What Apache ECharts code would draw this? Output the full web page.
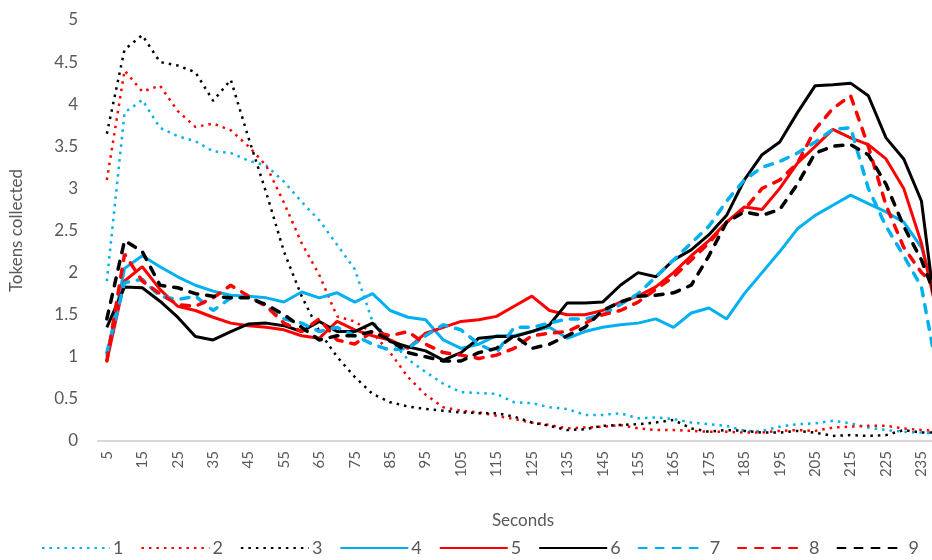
<!DOCTYPE html>
<html>
<head>
<meta charset="utf-8">
<title>Tokens collected</title>
<script src="https://cdn.jsdelivr.net/npm/echarts@6/dist/echarts.min.js"></script>
<style>
  html, body { margin: 0; padding: 0; background: #fff; overflow: hidden; }
  /* plot runs a little past the right edge, like the cropped original */
  #main { width: 948px; height: 560px; }
</style>
</head>
<body>
<div id="main"></div>
<script>
// seconds (x categories)
var seconds = [5, 10, 15, 20, 25, 30, 35, 40, 45, 50, 55, 60, 65, 70, 75, 80,
  85, 90, 95, 100, 105, 110, 115, 120, 125, 130, 135, 140, 145, 150, 155, 160,
  165, 170, 175, 180, 185, 190, 195, 200, 205, 210, 215, 220, 225, 230, 235, 240];

var yTicks = [0, 0.5, 1, 1.5, 2, 2.5, 3, 3.5, 4, 4.5, 5];
var seriesNames = ["1", "2", "3", "4", "5", "6", "7", "8", "9"];

// dotted 1-3
var s1 = [1.9, 3.9, 4.05, 3.72, 3.62, 3.56, 3.44, 3.42, 3.33, 3.27, 3.08, 2.84,
  2.62, 2.33, 2.04, 1.42, 1.2, 0.97, 0.82, 0.68, 0.58, 0.57, 0.56, 0.46,
  0.45, 0.4, 0.38, 0.31, 0.31, 0.33, 0.27, 0.28, 0.26, 0.22, 0.2, 0.18,
  0.12, 0.12, 0.17, 0.2, 0.21, 0.24, 0.21, 0.16, 0.13, 0.11, 0.1, 0.08];
var s2 = [3.1, 4.4, 4.15, 4.22, 3.92, 3.73, 3.77, 3.69, 3.5, 3.27, 2.83, 2.35,
  1.97, 1.48, 1.42, 1.28, 1.05, 0.76, 0.55, 0.4, 0.36, 0.34, 0.3, 0.26,
  0.22, 0.19, 0.15, 0.16, 0.17, 0.19, 0.15, 0.13, 0.13, 0.12, 0.11, 0.11,
  0.1, 0.1, 0.12, 0.13, 0.12, 0.16, 0.17, 0.18, 0.18, 0.15, 0.13, 0.12];
var s3 = [3.65, 4.65, 4.82, 4.5, 4.46, 4.38, 4.04, 4.29, 3.6, 2.95, 2.25, 1.72,
  1.3, 1.0, 0.76, 0.56, 0.46, 0.41, 0.38, 0.36, 0.34, 0.33, 0.33, 0.29,
  0.22, 0.18, 0.13, 0.14, 0.18, 0.19, 0.2, 0.22, 0.25, 0.15, 0.11, 0.13,
  0.12, 0.1, 0.1, 0.12, 0.1, 0.06, 0.07, 0.06, 0.07, 0.13, 0.1, 0.1];
// solid 4-6
var s4 = [1.0, 2.05, 2.2, 2.07, 1.95, 1.85, 1.78, 1.73, 1.72, 1.7, 1.65, 1.77,
  1.7, 1.76, 1.65, 1.75, 1.55, 1.47, 1.44, 1.2, 1.1, 1.15, 1.25, 1.25,
  1.3, 1.35, 1.22, 1.3, 1.35, 1.38, 1.4, 1.45, 1.35, 1.52, 1.58, 1.45,
  1.75, 2.0, 2.25, 2.52, 2.68, 2.8, 2.92, 2.82, 2.72, 2.6, 2.3, 1.6];
var s5 = [0.95, 1.9, 2.07, 1.8, 1.6, 1.55, 1.47, 1.4, 1.37, 1.35, 1.32, 1.25,
  1.22, 1.42, 1.32, 1.25, 1.2, 1.1, 1.28, 1.35, 1.42, 1.44, 1.48, 1.6,
  1.72, 1.55, 1.5, 1.5, 1.55, 1.65, 1.72, 1.83, 2.0, 2.2, 2.38, 2.6,
  2.78, 2.75, 3.0, 3.3, 3.5, 3.7, 3.6, 3.52, 3.35, 3.0, 2.35, 1.4];
var s6 = [1.35, 1.83, 1.82, 1.66, 1.47, 1.24, 1.2, 1.3, 1.39, 1.4, 1.37, 1.3,
  1.42, 1.3, 1.3, 1.4, 1.18, 1.12, 1.07, 0.96, 1.05, 1.22, 1.24, 1.24,
  1.3, 1.38, 1.64, 1.64, 1.65, 1.85, 2.0, 1.95, 2.15, 2.27, 2.45, 2.68,
  3.1, 3.4, 3.55, 3.9, 4.22, 4.23, 4.25, 4.1, 3.6, 3.35, 2.85, 1.2];
// dashed 7-9
var s7 = [1.05, 1.88, 1.92, 1.72, 1.68, 1.72, 1.55, 1.7, 1.72, 1.6, 1.45, 1.4,
  1.3, 1.35, 1.25, 1.15, 1.08, 1.1, 1.25, 1.38, 1.32, 1.15, 1.05, 1.35,
  1.35, 1.4, 1.45, 1.45, 1.5, 1.62, 1.75, 1.95, 2.15, 2.35, 2.55, 2.85,
  3.1, 3.25, 3.32, 3.42, 3.55, 3.7, 3.72, 3.0, 2.55, 2.2, 1.83, 0.7];
var s8 = [0.95, 2.22, 1.9, 1.75, 1.62, 1.6, 1.7, 1.85, 1.72, 1.6, 1.4, 1.3,
  1.45, 1.2, 1.15, 1.3, 1.25, 1.3, 1.15, 1.05, 1.02, 0.98, 1.02, 1.1,
  1.25, 1.28, 1.3, 1.4, 1.5, 1.55, 1.65, 1.8, 1.95, 2.15, 2.35, 2.6,
  2.75, 3.0, 3.1, 3.3, 3.7, 3.95, 4.1, 3.5, 2.8, 2.3, 2.0, 1.8];
var s9 = [1.45, 2.38, 2.25, 1.85, 1.82, 1.75, 1.72, 1.7, 1.7, 1.62, 1.5, 1.35,
  1.2, 1.25, 1.25, 1.3, 1.2, 1.05, 1.0, 0.95, 0.95, 1.05, 1.1, 1.25,
  1.1, 1.15, 1.25, 1.35, 1.55, 1.65, 1.72, 1.73, 1.76, 1.85, 2.2, 2.6,
  2.72, 2.68, 2.75, 3.05, 3.42, 3.5, 3.52, 3.4, 3.05, 2.55, 2.15, 1.6];

var seriesData = [s1, s2, s3, s4, s5, s6, s7, s8, s9];
var seriesColors = ["#00B0F0", "#FF0000", "#000000"];

var page = {
  init: function () {
    var myChart = echarts.init(document.getElementById("main"));
    myChart.setOption(page.option());
  },
  // 0-2 dotted, 3-5 solid, 6-8 dashed
  lineStyle: function (i) {
    var style = { color: seriesColors[i % 3] };
    if (i < 3) {
      style.width = 2.5;
      style.type = [2.5, 5];
    } else if (i < 6) {
      style.width = 3;
      style.type = "solid";
    } else {
      style.width = 3.5;
      style.type = [8, 9];
      style.cap = "round";
    }
    return style;
  },
  option: function () {
    var series = [];
    for (var i = 0; i < seriesData.length; i++) {
      series.push({
        name: seriesNames[i],
        type: "line",
        data: seriesData[i],
        symbol: "none",
        itemStyle: { color: seriesColors[i % 3] },
        lineStyle: page.lineStyle(i)
      });
    }
    return {
      backgroundColor: "#fff",
      animation: false,
      textStyle: { fontFamily: "Lato, 'Open Sans', sans-serif" },
      grid: { left: 95, top: 20, right: 0, height: 421 },
      legend: {
        data: seriesNames,
        bottom: -2,
        left: 36,
        itemWidth: 68,
        itemHeight: 10,
        itemGap: 17,
        itemStyle: { opacity: 0 },
        textStyle: { color: "#595959", fontSize: 18, padding: [0, 0, 0, -2] }
      },
      xAxis: {
        type: "category",
        data: seconds,
        boundaryGap: true,
        name: "Seconds",
        nameLocation: "middle",
        nameGap: 71,
        nameTextStyle: { color: "#595959", fontSize: 17 },
        axisLine: { lineStyle: { color: "#d9d9d9", width: 2 } },
        axisTick: { show: false },
        axisLabel: {
          interval: 1,
          rotate: 90,
          color: "#595959",
          fontSize: 15,
          margin: 10
        }
      },
      yAxis: {
        type: "value",
        min: yTicks[0],
        max: yTicks[yTicks.length - 1],
        interval: 0.5,
        name: "Tokens collected",
        nameLocation: "middle",
        nameGap: 73,
        nameTextStyle: { color: "#595959", fontSize: 17 },
        axisLine: { show: false },
        axisTick: { show: false },
        splitLine: { show: false },
        axisLabel: { color: "#595959", fontSize: 17, margin: 20 }
      },
      series: series
    };
  }
};
page.init();
</script>
</body>
</html>
